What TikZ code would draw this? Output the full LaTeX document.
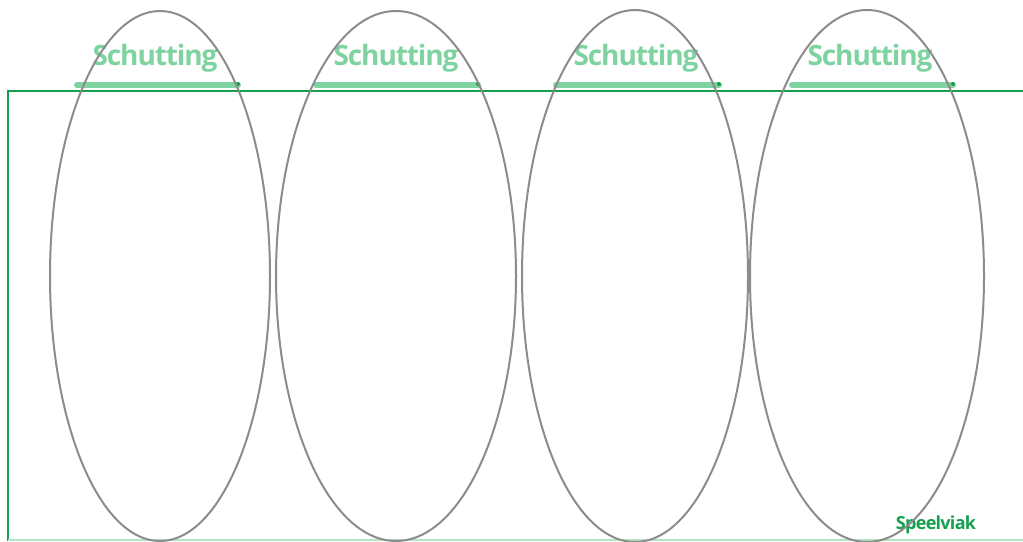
\documentclass[tikz,border=0pt]{standalone}
\usepackage{fontspec}
\setmainfont{Open Sans}
\newfontfamily\tightfont[LetterSpace=-4]{Open Sans}
\definecolor{lgreen}{HTML}{7FD3A0}
\definecolor{dgreen}{HTML}{14A04E}
\definecolor{egray}{HTML}{8C8C8C}
\begin{document}
\begin{tikzpicture}[x=1pt,y=-1pt,
  lbl/.style={font=\tightfont\bfseries\fontsize{28}{30}\selectfont, text=lgreen, inner sep=0pt, anchor=base},
  bar/.style={line width=6pt, lgreen, line cap=round},
  zone/.style={draw=egray, line width=2pt}]
\useasboundingbox (0,0) rectangle (1023,541);
% field outline
\draw[dgreen, line width=2.5pt] (1023,91) -- (8,91) -- (8,541);
\draw[lgreen!60, line width=1.5pt] (8,540) -- (1023,540);
% labels
\foreach \i/\cx/\a/\b in {1/155/77/238, 2/396/316/478, 3/636/556/719, 4/870/792/953}{
  \node[lbl] (s\i) at (\cx,65) {Schutting};
  \coordinate (bl\i) at (\a,85);
  \coordinate (br\i) at (\b,85);
  \draw[bar] (bl\i) -- (br\i);
  \fill[dgreen] (\b,84) circle (2pt);
}
\node[font=\tightfont\bfseries\fontsize{18}{19}\selectfont, text=dgreen, inner sep=0pt, anchor=base] (sp) at (936,529) {Speelviak};
% ellipses
\draw[zone] (160,276) ellipse [x radius=110, y radius=265];
\draw[zone] (396,276) ellipse [x radius=120, y radius=265];
\draw[zone] (635,276) ellipse [x radius=113, y radius=266];
\draw[zone] (867,276) ellipse [x radius=117, y radius=266];
\end{tikzpicture}
\end{document}
